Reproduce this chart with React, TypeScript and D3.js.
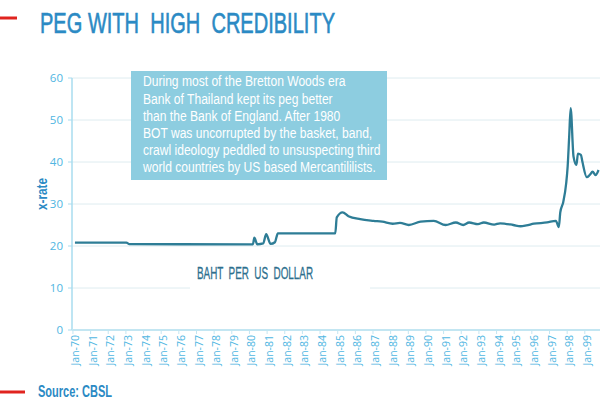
import React from 'react';
import * as d3 from 'd3';

// Baht per US dollar
const dates = [
  '1970-01', '1972-12', '1973-02', '1979-12', '1980-02', '1980-03', '1980-05', '1980-09',
  '1980-11', '1981-02', '1981-05', '1981-07', '1984-10', '1984-11', '1985-03', '1985-07',
  '1986-03', '1986-12', '1987-06', '1988-01', '1988-06', '1988-12', '1989-08', '1990-05',
  '1991-01', '1991-08', '1992-01', '1992-05', '1992-11', '1993-03', '1993-10', '1994-02',
  '1994-11', '1995-04', '1995-08', '1996-01', '1996-10', '1997-04', '1997-06', '1997-07',
  '1997-09', '1997-11', '1997-12', '1998-01', '1998-02', '1998-04', '1998-06', '1998-07',
  '1998-09', '1998-10', '1999-01', '1999-03', '1999-05', '1999-07', '1999-09',
];
const rates = [
  20.8, 20.8, 20.45, 20.4, 20.4, 22.0, 20.4, 20.6,
  22.8, 20.5, 20.9, 23.0, 23.0, 26.8, 28.0, 27.1,
  26.4, 26.0, 25.8, 25.3, 25.5, 25.0, 25.8, 26.0,
  25.0, 25.6, 25.0, 25.6, 25.2, 25.6, 25.1, 25.4,
  25.0, 24.7, 24.9, 25.3, 25.6, 26.0, 24.5, 28.0,
  30.5, 35.0, 39.0, 46.0, 52.8, 41.3, 39.3, 42.0,
  41.7, 40.1, 36.4, 36.9, 37.7, 36.9, 38.1,
];
const tickYears = d3.range(1970, 2000);
const yTicks = [0, 10, 20, 30, 40, 50, 60];
const noteLines = [
  'During most of the Bretton Woods era',
  'Bank of Thailand kept its peg better',
  'than the Bank of England. After 1980',
  'BOT was uncorrupted by the basket, band,',
  'crawl ideology peddled to unsuspecting third',
  'world countries by US based Mercantililists.',
];

const parse = d3.timeParse('%Y-%m');
const fmt = d3.timeFormat('%b-%y');

export default function App() {
  const width = 600;
  const height = 400;
  const left = 72;
  const right = 600;
  const top = 78;
  const bottom = 330;

  const data = dates.map((d, i) => ({ date: parse(d) as Date, value: rates[i] }));

  const x = d3.scaleTime()
    .domain([new Date(1969, 10, 1), new Date(1999, 9, 1)])
    .range([left, right]);
  const y = d3.scaleLinear().domain([0, 60]).range([bottom, top]);

  const line = d3.line<{ date: Date; value: number }>()
    .x(d => x(d.date))
    .y(d => y(d.value))
    .curve(d3.curveMonotoneX);

  const sans = '"Liberation Sans", Arial, sans-serif';
  const axisBlue = '#4fb6e2';

  return (
    <svg width={width} height={height} style={{ position: 'absolute', left: 0, top: 0, background: '#fff' }}>
      {/* red markers */}
      <line x1={0} x2={17} y1={18} y2={18} stroke="#e0241f" strokeWidth={3} />
      <line x1={0} x2={25} y1={392} y2={392} stroke="#e0241f" strokeWidth={3} />

      {/* title */}
      <text x={40} y={33} fontFamily={sans} fontSize={29} fill="#2b8ac4" stroke="#2b8ac4" strokeWidth={0.6}
        style={{ whiteSpace: 'pre' }}
        textLength={295} lengthAdjust="spacingAndGlyphs">PEG WITH  HIGH  CREDIBILITY</text>

      {/* gridlines */}
      {yTicks.filter(t => t > 0).map(t => (
        <line key={t} x1={left} x2={right} y1={y(t)} y2={y(t)} stroke="#deecf0" strokeWidth={1} />
      ))}

      {/* y axis */}
      <line x1={left} x2={left} y1={top} y2={bottom} stroke="#a9dcef" strokeWidth={1.5} />
      {yTicks.map(t => (
        <g key={t}>
          <line x1={left - 4} x2={left} y1={y(t)} y2={y(t)} stroke="#a9dcef" />
          <text x={left - 9} y={y(t)} dy="0.35em" textAnchor="end" fontFamily="'Open Sans', sans-serif"
            fontSize={11.5} fill={axisBlue}>{t}</text>
        </g>
      ))}
      <text transform={`translate(47, 194) rotate(-90)`} textAnchor="middle" fontFamily={sans}
        fontWeight="bold" fontSize={14} fill="#2b8ac4" textLength={32} lengthAdjust="spacingAndGlyphs">x-rate</text>

      {/* x axis */}
      <line x1={left} x2={right} y1={bottom} y2={bottom} stroke="#c3e6f2" strokeWidth={2} />
      {tickYears.map(yr => {
        const d = new Date(yr, 0, 1);
        const px = x(d);
        return (
          <g key={yr}>
            <line x1={px - 2} x2={px - 2} y1={bottom} y2={bottom + 4} stroke="#c3e6f2" />
            <text transform={`translate(${px + 4}, ${bottom + 5}) rotate(-90)`} textAnchor="end"
              fontFamily="'Open Sans', sans-serif" fontSize={10.5} fill={axisBlue}>{fmt(d)}</text>
          </g>
        );
      })}

      {/* label with white backing */}
      <rect x={190} y={258} width={180} height={34} fill="#fff" />
      <text x={197} y={279} fontFamily={sans} fontSize={16} fill="#2d6f8e" stroke="#2d6f8e" strokeWidth={0.3}
        style={{ whiteSpace: 'pre' }}
        textLength={116} lengthAdjust="spacingAndGlyphs">BAHT  PER  US  DOLLAR</text>

      {/* series */}
      <path d={line(data) || ''} fill="none" stroke="#2e7d96" strokeWidth={2.3} strokeLinejoin="round" />

      {/* annotation */}
      <rect x={131} y={71} width={256} height={109} fill="#8dcde0" />
      <g transform="translate(143, 0) scale(0.78, 1)">
        {noteLines.map((t, i) => (
          <text key={i} x={0} y={86.5 + i * 17.1} fontFamily={sans} fontSize={15.5} fill="#fff">{t}</text>
        ))}
      </g>

      {/* source */}
      <text x={38} y={397} fontFamily={sans} fontWeight="bold" fontSize={16} fill="#2b8ac4"
        textLength={74} lengthAdjust="spacingAndGlyphs">Source: CBSL</text>
    </svg>
  );
}
